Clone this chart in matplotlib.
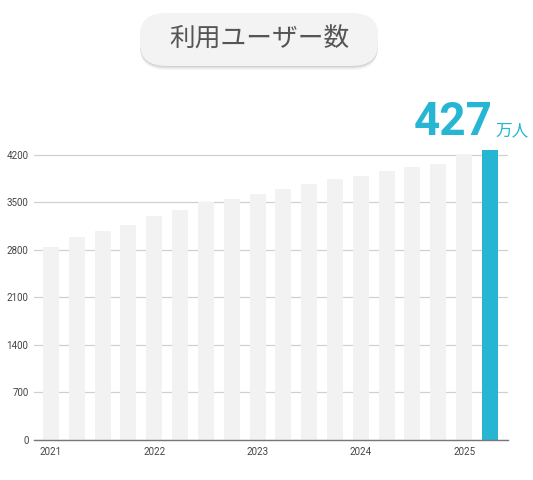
import matplotlib
matplotlib.use("Agg")
import matplotlib.pyplot as plt
from matplotlib.patches import FancyBboxPatch

plt.rcParams['font.family'] = ['Roboto', 'Noto Sans CJK JP', 'DejaVu Sans']

# Data (last bar = 427万人)
users = [2840, 2996, 3085, 3173, 3296, 3389, 3503, 3557, 3632,
         3695, 3773, 3842, 3890, 3969, 4023, 4067, 4215, 4270]
year_labels = ["2021", "2022", "2023", "2024", "2025"]
year_positions = [0, 4, 8, 12, 16]
y_ticks = [0, 700, 1400, 2100, 2800, 3500, 4200]
title = "利用ユーザー数"
highlight_value = "427"
highlight_unit = "万人"

gray = "#f2f2f2"
blue = "#26b6d4"

fig = plt.figure(figsize=(5.33, 4.8), dpi=100)
ax = fig.add_axes([34 / 533, 40 / 480, 474 / 533, 0.7054 - 40 / 480])

x = list(range(len(users)))
colors = [gray] * (len(users) - 1) + [blue]
ax.bar(x, users, width=0.62, color=colors, zorder=2)

ax.set_xlim(-0.66, len(users) - 1 + 0.70)
ax.set_ylim(0, 4400)
ax.set_yticks(y_ticks)
ax.set_yticklabels([str(v) for v in y_ticks])
ax.set_xticks(year_positions)
ax.set_xticklabels(year_labels)
ax.tick_params(axis='both', length=0, labelsize=7, labelcolor="#444444")
ax.tick_params(axis='y', pad=4)
ax.tick_params(axis='x', pad=5)

ax.yaxis.grid(True, color="#d0d0d0", linewidth=0.9, zorder=0)
for s in ["top", "right", "left"]:
    ax.spines[s].set_visible(False)
ax.spines["bottom"].set_color("#777777")
ax.spines["bottom"].set_linewidth(1.0)
ax.spines["bottom"].set_zorder(3)

# Highlight label above the last bar
fig.text(493 / 533, 1 - 135 / 480, highlight_value,
         fontsize=33, fontweight="bold", color=blue, ha="right", va="baseline")
fig.text(495 / 533, 1 - 135 / 480, highlight_unit,
         fontsize=12, color=blue, ha="left", va="baseline",
         family=['Noto Sans CJK JP', 'DejaVu Sans'])

# Title pill with soft shadow
px0, px1, py_top, py_bot = 140, 378, 13, 66
w = (px1 - px0) / 533
h = (py_bot - py_top) / 480
for i, a in enumerate([0.03, 0.04, 0.05, 0.06]):
    off = (4 - i) * 1.0
    sh = FancyBboxPatch((px0 / 533, 1 - (py_bot + off) / 480), w, h,
                        boxstyle="round,pad=0,rounding_size=0.05",
                        transform=fig.transFigure, facecolor="#000000",
                        edgecolor="none", alpha=a, mutation_aspect=480 / 533)
    fig.patches.append(sh)
pill = FancyBboxPatch((px0 / 533, 1 - py_bot / 480), w, h,
                      boxstyle="round,pad=0,rounding_size=0.05",
                      transform=fig.transFigure, facecolor="#f3f3f3",
                      edgecolor="none", mutation_aspect=480 / 533)
fig.patches.append(pill)
fig.text((px0 + px1) / 2 / 533, 1 - 40 / 480, title, fontsize=18.5,
         color="#555555", ha="center", va="center",
         family=['Noto Sans CJK JP', 'DejaVu Sans'])

fig.savefig("out.png", dpi=100)
